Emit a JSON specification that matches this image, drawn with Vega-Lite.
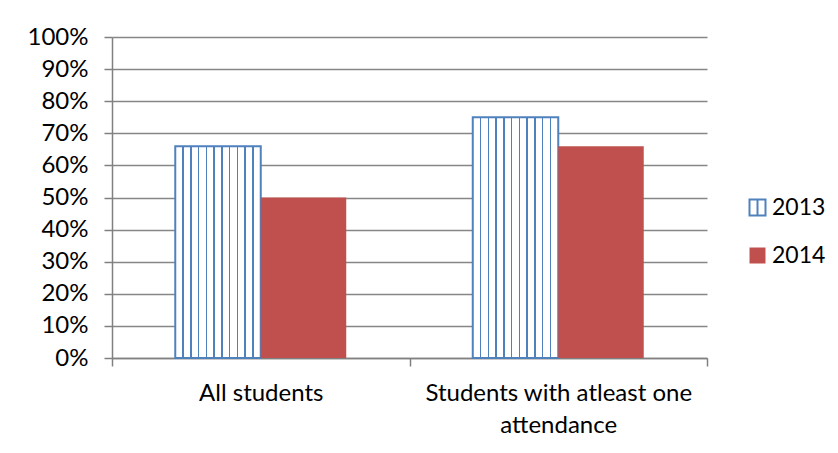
{
  "$schema": "https://vega.github.io/schema/vega-lite/v6.json",
  "width": 595,
  "height": 321,
  "autosize": {"type": "none"},
  "padding": {"left": 112, "top": 37, "right": 131, "bottom": 95},
  "background": "white",
  "data": {
    "values": [
      {"category": "All students", "year": "2013", "value": 0.66},
      {"category": "All students", "year": "2014", "value": 0.50},
      {"category": "Students with atleast one attendance", "year": "2013", "value": 0.75},
      {"category": "Students with atleast one attendance", "year": "2014", "value": 0.66}
    ]
  },
  "encoding": {
    "x": {
      "field": "category",
      "type": "nominal",
      "sort": null,
      "title": null,
      "scale": {"paddingInner": 0, "paddingOuter": 0},
      "axis": {
        "labelAngle": 0,
        "labelFontSize": 24,
        "labelColor": "#000000",
        "labelPadding": 15,
        "labelLineHeight": 32,
        "labelLimit": 400,
        "tickBand": "extent",
        "tickSize": 8,
        "tickColor": "#808080",
        "domainColor": "#808080",
        "tickWidth": 1.5,
        "domainWidth": 1.5,
        "grid": false,
        "labelExpr": "datum.label == 'Students with atleast one attendance' ? ['Students with atleast one', 'attendance'] : datum.label"
      }
    },
    "xOffset": {
      "field": "year",
      "type": "nominal",
      "scale": {"domain": ["2013", "2014"], "paddingInner": 0, "paddingOuter": 0.74}
    },
    "y": {
      "field": "value",
      "type": "quantitative",
      "title": null,
      "scale": {"domain": [0, 1], "nice": false},
      "axis": {
        "values": [0, 0.1, 0.2, 0.3, 0.4, 0.5, 0.6, 0.7, 0.8, 0.9, 1],
        "format": ".0%",
        "labelFontSize": 24,
        "labelColor": "#000000",
        "labelPadding": 16,
        "tickSize": 8,
        "tickColor": "#808080",
        "domainColor": "#808080",
        "gridColor": "#868686",
        "tickWidth": 1.5,
        "domainWidth": 1.5,
        "gridWidth": 1.5
      }
    }
  },
  "layer": [
    {
      "transform": [{"filter": "datum.year == '2013'"}],
      "mark": {
        "type": "bar",
        "fill": {
          "gradient": "linear", "x1": 0, "y1": 0, "x2": 1, "y2": 0,
          "stops": [
            {"offset": 0, "color": "#ffffff"},
            {"offset": 0.082, "color": "#ffffff"}, {"offset": 0.082, "color": "#4F81BD"}, {"offset": 0.100, "color": "#4F81BD"}, {"offset": 0.100, "color": "#ffffff"},
            {"offset": 0.173, "color": "#ffffff"}, {"offset": 0.173, "color": "#4F81BD"}, {"offset": 0.191, "color": "#4F81BD"}, {"offset": 0.191, "color": "#ffffff"},
            {"offset": 0.264, "color": "#ffffff"}, {"offset": 0.264, "color": "#4F81BD"}, {"offset": 0.282, "color": "#4F81BD"}, {"offset": 0.282, "color": "#ffffff"},
            {"offset": 0.355, "color": "#ffffff"}, {"offset": 0.355, "color": "#4F81BD"}, {"offset": 0.373, "color": "#4F81BD"}, {"offset": 0.373, "color": "#ffffff"},
            {"offset": 0.446, "color": "#ffffff"}, {"offset": 0.446, "color": "#4F81BD"}, {"offset": 0.464, "color": "#4F81BD"}, {"offset": 0.464, "color": "#ffffff"},
            {"offset": 0.536, "color": "#ffffff"}, {"offset": 0.536, "color": "#4F81BD"}, {"offset": 0.554, "color": "#4F81BD"}, {"offset": 0.554, "color": "#ffffff"},
            {"offset": 0.627, "color": "#ffffff"}, {"offset": 0.627, "color": "#4F81BD"}, {"offset": 0.645, "color": "#4F81BD"}, {"offset": 0.645, "color": "#ffffff"},
            {"offset": 0.718, "color": "#ffffff"}, {"offset": 0.718, "color": "#4F81BD"}, {"offset": 0.736, "color": "#4F81BD"}, {"offset": 0.736, "color": "#ffffff"},
            {"offset": 0.809, "color": "#ffffff"}, {"offset": 0.809, "color": "#4F81BD"}, {"offset": 0.827, "color": "#4F81BD"}, {"offset": 0.827, "color": "#ffffff"},
            {"offset": 0.900, "color": "#ffffff"}, {"offset": 0.900, "color": "#4F81BD"}, {"offset": 0.918, "color": "#4F81BD"}, {"offset": 0.918, "color": "#ffffff"},
            {"offset": 1, "color": "#ffffff"}
          ]
        }
      },
      "encoding": {}
    },
    {
      "transform": [{"filter": "datum.year == '2013'"}],
      "mark": {"type": "bar", "fill": "transparent", "strokeWidth": 2},
      "encoding": {
        "stroke": {
          "field": "year",
          "type": "nominal",
          "scale": {"domain": ["2013"], "range": ["#4F81BD"]},
          "legend": {
            "title": null,
            "orient": "none",
            "legendX": 634,
            "legendY": 159,
            "padding": 0,
            "symbolType": "M-1,-1H1V1H-1Z M0,-1V1",
            "symbolSize": 256,
            "symbolStrokeWidth": 2,
            "symbolOpacity": 1,
            "labelFontSize": 23,
            "labelColor": "#000000",
            "labelOffset": 3
          }
        }
      }
    },
    {
      "transform": [{"filter": "datum.year == '2014'"}],
      "mark": {"type": "bar"},
      "encoding": {
        "fill": {
          "field": "year",
          "type": "nominal",
          "scale": {"domain": ["2014"], "range": ["#C0504D"]},
          "legend": {
            "title": null,
            "orient": "none",
            "legendX": 634,
            "legendY": 207,
            "padding": 0,
            "symbolType": "square",
            "symbolSize": 256,
            "symbolStrokeWidth": 0,
            "symbolOpacity": 1,
            "labelFontSize": 23,
            "labelColor": "#000000",
            "labelOffset": 3
          }
        }
      }
    }
  ],
  "config": {
    "view": {"stroke": null},
    "font": "Lato"
  }
}
